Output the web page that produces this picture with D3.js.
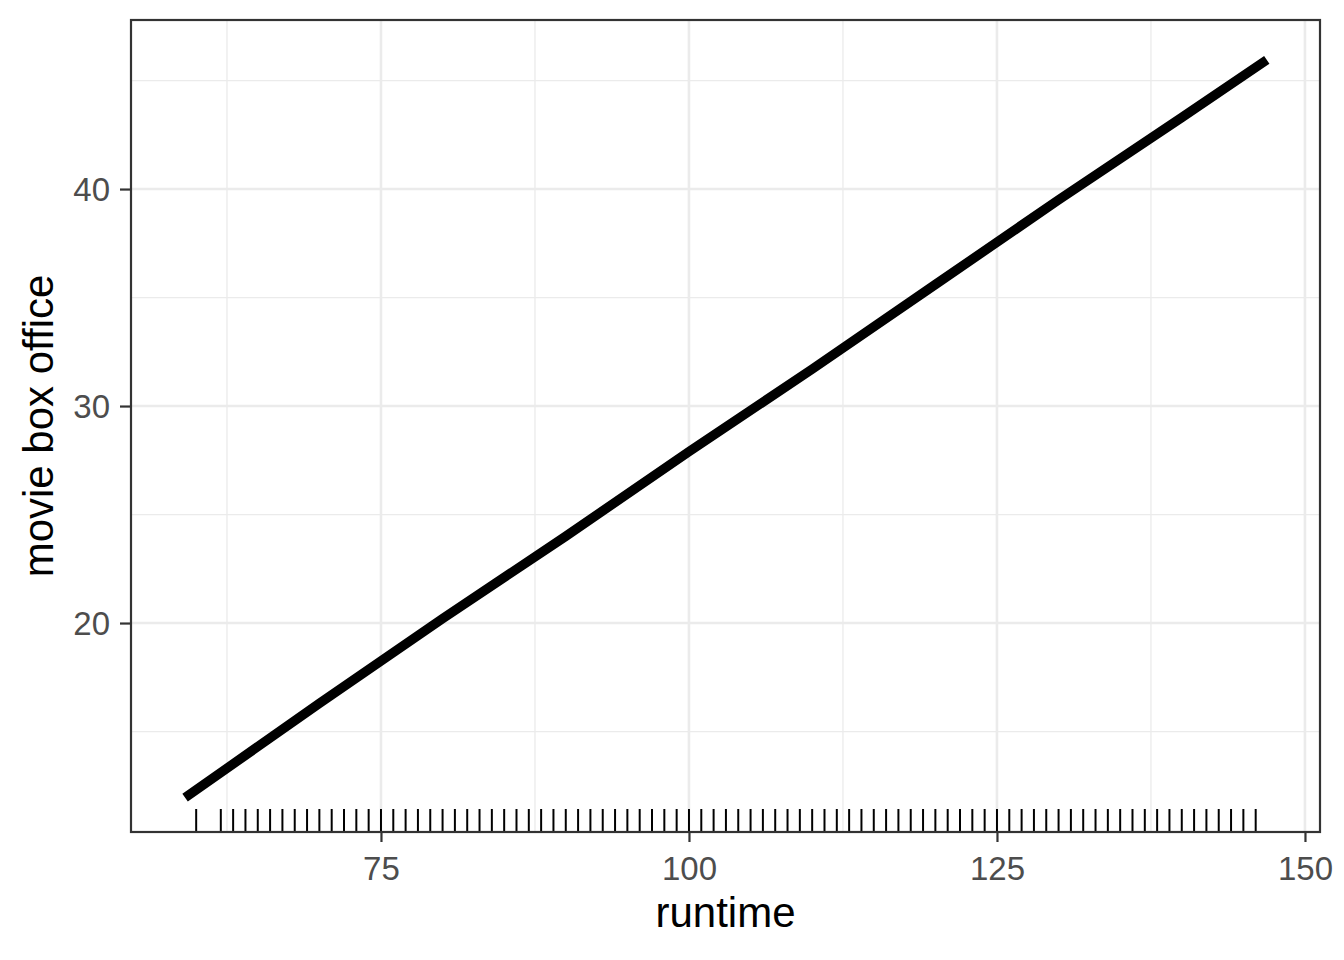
<!DOCTYPE html>
<html>
<head>
<meta charset="utf-8">
<script src="https://cdn.jsdelivr.net/npm/d3@7"></script>
<style>
  body { margin: 0; background: #fff; }
  text { font-family: "Liberation Sans", Arial, sans-serif; }
</style>
</head>
<body>
<script>
// rug positions (runtime values)
const rugRuntime = [60].concat(d3.range(62, 147));
// fitted line
const fitRuntime = [59.1, 70, 80, 90, 100, 110, 120, 130, 140, 146.9];
const fitBoxOffice = [11.95, 16.3, 20.2, 24.0, 27.9, 31.7, 35.6, 39.5, 43.3, 45.95];
const xTicks = [75, 100, 125, 150];
const yTicks = [20, 30, 40];
const xMinor = [62.5, 87.5, 112.5, 137.5];
const yMinor = [15, 25, 35, 45];

const width = 1344, height = 960;
const panel = { left: 131, right: 1320, top: 20, bottom: 832 };

const svg = d3.select('body').append('svg')
    .attr('width', width)
    .attr('height', height);

const x = d3.scaleLinear().domain([54.71, 151.22]).range([panel.left, panel.right]);
const y = d3.scaleLinear().domain([10.37, 47.79]).range([panel.bottom, panel.top]);

svg.append('rect')
    .attr('x', panel.left).attr('y', panel.top)
    .attr('width', panel.right - panel.left).attr('height', panel.bottom - panel.top)
    .attr('fill', '#fff');

// grid
const grid = svg.append('g');
grid.selectAll('.xmin').data(xMinor).enter().append('line')
    .attr('x1', d => x(d)).attr('x2', d => x(d))
    .attr('y1', panel.top).attr('y2', panel.bottom)
    .attr('stroke', '#EBEBEB').attr('stroke-width', 1.3);
grid.selectAll('.ymin').data(yMinor).enter().append('line')
    .attr('y1', d => y(d)).attr('y2', d => y(d))
    .attr('x1', panel.left).attr('x2', panel.right)
    .attr('stroke', '#EBEBEB').attr('stroke-width', 1.3);
grid.selectAll('.xmaj').data(xTicks).enter().append('line')
    .attr('x1', d => x(d)).attr('x2', d => x(d))
    .attr('y1', panel.top).attr('y2', panel.bottom)
    .attr('stroke', '#EBEBEB').attr('stroke-width', 2.6);
grid.selectAll('.ymaj').data(yTicks).enter().append('line')
    .attr('y1', d => y(d)).attr('y2', d => y(d))
    .attr('x1', panel.left).attr('x2', panel.right)
    .attr('stroke', '#EBEBEB').attr('stroke-width', 2.6);

// fitted line
const pts = fitRuntime.map((r, i) => [r, fitBoxOffice[i]]);
svg.append('path')
    .datum(pts)
    .attr('d', d3.line().x(d => x(d[0])).y(d => y(d[1])))
    .attr('fill', 'none')
    .attr('stroke', '#000')
    .attr('stroke-width', 9.5);

// rug
svg.append('g').selectAll('line')
    .data(rugRuntime).enter().append('line')
    .attr('x1', d => x(d)).attr('x2', d => x(d))
    .attr('y1', panel.bottom).attr('y2', panel.bottom - 23)
    .attr('stroke', '#000').attr('stroke-width', 2);

// border
svg.append('rect')
    .attr('x', panel.left).attr('y', panel.top)
    .attr('width', panel.right - panel.left).attr('height', panel.bottom - panel.top)
    .attr('fill', 'none').attr('stroke', '#333').attr('stroke-width', 2.2);

// axes
const xAxis = svg.append('g')
    .attr('transform', 'translate(0,' + panel.bottom + ')')
    .call(d3.axisBottom(x).tickValues(xTicks).tickSize(10).tickPadding(10));
const yAxis = svg.append('g')
    .attr('transform', 'translate(' + panel.left + ',0)')
    .call(d3.axisLeft(y).tickValues(yTicks).tickSize(11).tickPadding(10));
[xAxis, yAxis].forEach(a => {
    a.select('.domain').remove();
    a.selectAll('.tick line').attr('stroke', '#333').attr('stroke-width', 2.2);
    a.selectAll('.tick text')
        .attr('fill', '#4D4D4D')
        .style('font-size', '33px')
        .style('font-family', '"Liberation Sans", Arial, sans-serif');
});
xAxis.selectAll('.tick text').attr('dy', '0.71em').attr('y', 25);
yAxis.selectAll('.tick text').attr('dy', '0.36em');

svg.append('text')
    .attr('x', (panel.left + panel.right) / 2)
    .attr('y', 927)
    .attr('text-anchor', 'middle')
    .style('font-size', '42px')
    .text('runtime');

svg.append('text')
    .attr('transform', 'translate(53,' + ((panel.top + panel.bottom) / 2) + ') rotate(-90)')
    .attr('text-anchor', 'middle')
    .style('font-size', '42px')
    .text('movie box office');
</script>
</body>
</html>
